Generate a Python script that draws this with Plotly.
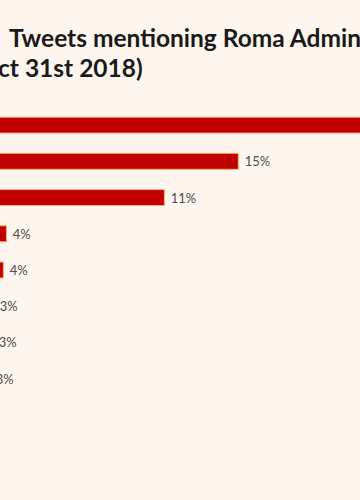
import plotly.graph_objects as go

categories = ["Row 1", "Row 2", "Row 3", "Row 4", "Row 5", "Row 6", "Row 7", "Row 8", "Row 9"]
values = [24.0, 14.56, 11.2, 4.02, 3.88, 3.43, 3.38, 3.25, 2.6]
labels = ["24%", "15%", "11%", "4%", "4%", "3%", "3%", "3%", "3%"]

title_line1 = "Tweets mentioning Roma Admin"
title_line2 = "ct 31st 2018)"

BG = "#FEF6EE"
BAR = "#C00000"
EDGE = "#F7B173"
HIDDEN_LEFT = 82  # the chart's left part lies outside the visible window

fig = go.Figure()
fig.add_trace(go.Bar(
    y=categories,
    x=values,
    orientation="h",
    marker=dict(color=BAR, line=dict(color=EDGE, width=1)),
    text=["\u00a0" + t for t in labels],
    textposition="outside",
    textfont=dict(family="Lato, Open Sans, sans-serif", size=13, color="#4d4d4d"),
    cliponaxis=False,
    width=0.44,
    hoverinfo="skip",
))

fig.update_layout(
    width=360 + HIDDEN_LEFT,
    height=500,
    paper_bgcolor=BG,
    plot_bgcolor=BG,
    margin=dict(l=0, r=0, t=107, b=67),
    showlegend=False,
    xaxis=dict(range=[0, (360 + HIDDEN_LEFT) / 22.0], visible=False, fixedrange=True),
    yaxis=dict(autorange="reversed", showticklabels=False, showgrid=False,
               zeroline=False, showline=False, ticks="", fixedrange=True),
    annotations=[
        dict(text=title_line1, xref="paper", yref="paper", x=0, y=1, xanchor="left",
             yanchor="bottom", xshift=HIDDEN_LEFT + 7, yshift=53, showarrow=False,
             font=dict(family="Lato, sans-serif", size=24.5, color="#1a1a1a", weight="bold")),
        dict(text=title_line2, xref="paper", yref="paper", x=0, y=1, xanchor="left",
             yanchor="bottom", xshift=HIDDEN_LEFT - 4, yshift=23, showarrow=False,
             font=dict(family="Lato, sans-serif", size=24.5, color="#1a1a1a", weight="bold")),
    ],
)

fig.write_html(
    "out.html",
    config={"displayModeBar": False},
    post_script=(
        "document.body.style.margin='0';"
        "document.body.style.overflow='hidden';"
        "document.body.style.background='%s';"
        "document.getElementById('{plot_id}').style.marginLeft='-%dpx';" % (BG, HIDDEN_LEFT)
    ),
)
